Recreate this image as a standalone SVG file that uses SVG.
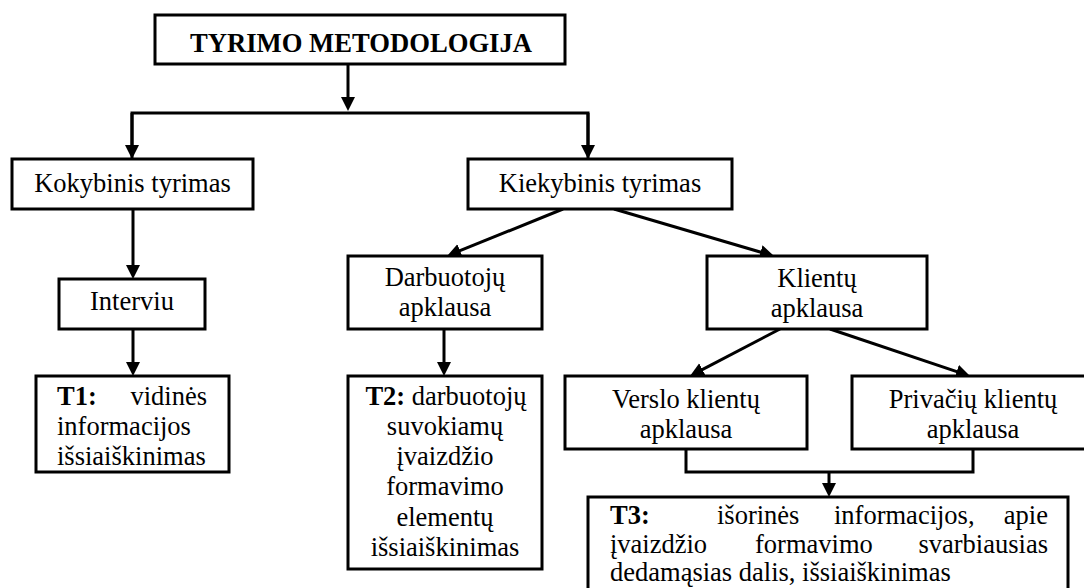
<svg xmlns="http://www.w3.org/2000/svg" width="1084" height="588" viewBox="0 0 1084 588">
<style>
.box{fill:#fff;stroke:#000;stroke-width:3}
.t{font-family:'Liberation Serif','DejaVu Serif',serif;font-size:26.5px;fill:#000}
.c{text-anchor:middle}
.e{text-anchor:end}
.b{font-weight:bold}
.ln{fill:none;stroke:#000;stroke-width:3}
</style>
<defs>
<marker id="ah" markerUnits="userSpaceOnUse" markerWidth="15" markerHeight="15" refX="4" refY="7" orient="auto">
<path d="M0,0 L14,7 L0,14 z" fill="#000"/>
</marker>
</defs>
<rect width="1084" height="588" fill="#fff"/>
<g id="connectors">
<line class="ln" x1="348" y1="64" x2="348" y2="101" marker-end="url(#ah)"/>
<polyline class="ln" points="132,159 132,113 588,113 588,159"/>
<line class="ln" x1="132" y1="113" x2="132" y2="149" marker-end="url(#ah)"/>
<line class="ln" x1="588" y1="113" x2="588" y2="149" marker-end="url(#ah)"/>
<line class="ln" x1="133" y1="209" x2="133" y2="269" marker-end="url(#ah)"/>
<line class="ln" x1="133" y1="329" x2="133" y2="366" marker-end="url(#ah)"/>
<line class="ln" x1="563" y1="209" x2="456.3" y2="252.2" marker-end="url(#ah)"/>
<line class="ln" x1="614" y1="209" x2="764.4" y2="253.2" marker-end="url(#ah)"/>
<line class="ln" x1="444" y1="329" x2="444" y2="366" marker-end="url(#ah)"/>
<line class="ln" x1="780" y1="329" x2="698.9" y2="371.4" marker-end="url(#ah)"/>
<line class="ln" x1="830" y1="329" x2="960.5" y2="372.8" marker-end="url(#ah)"/>
<polyline class="ln" points="686,449 686,472 973,472 973,449"/>
<line class="ln" x1="829" y1="472" x2="829" y2="487" marker-end="url(#ah)"/>
</g>
<g font-family="Liberation Serif, DejaVu Serif, serif">
<g id="title">
<rect class="box" x="155" y="15" width="410" height="49"/>
<text class="t b" x="190" y="52" textLength="342" lengthAdjust="spacingAndGlyphs">TYRIMO METODOLOGIJA</text>
</g>
<g id="kokybinis">
<rect class="box" x="12" y="159" width="241" height="50"/>
<text class="t c" x="132.5" y="192">Kokybinis tyrimas</text>
</g>
<g id="kiekybinis">
<rect class="box" x="468" y="159" width="264" height="50"/>
<text class="t c" x="600" y="192">Kiekybinis tyrimas</text>
</g>
<g id="interviu">
<rect class="box" x="59" y="279" width="146" height="50"/>
<text class="t c" x="132" y="310">Interviu</text>
</g>
<g id="darbuotoju">
<rect class="box" x="348" y="256" width="194" height="73"/>
<text class="t c" x="445" y="286">Darbuotojų</text>
<text class="t c" x="445" y="316">apklausa</text>
</g>
<g id="klientu">
<rect class="box" x="707" y="256" width="220" height="73"/>
<text class="t c" x="817" y="287">Klientų</text>
<text class="t c" x="817" y="317">apklausa</text>
</g>
<g id="t1">
<rect class="box" x="36" y="376" width="193" height="96"/>
<text class="t b" x="57" y="405">T1:</text>
<text class="t e" x="207" y="405">vidinės</text>
<text class="t" x="57" y="435">informacijos</text>
<text class="t" x="57" y="465">išsiaiškinimas</text>
</g>
<g id="t2">
<rect class="box" x="348" y="376" width="194" height="193"/>
<text class="t c" x="446" y="405"><tspan font-weight="bold">T2:</tspan> darbuotojų</text>
<text class="t c" x="445" y="435">suvokiamų</text>
<text class="t c" x="445" y="465">įvaizdžio</text>
<text class="t c" x="445" y="495">formavimo</text>
<text class="t c" x="445" y="526">elementų</text>
<text class="t c" x="445" y="556">išsiaiškinimas</text>
</g>
<g id="verslo">
<rect class="box" x="565" y="376" width="242" height="73"/>
<text class="t c" x="686" y="408">Verslo klientų</text>
<text class="t c" x="686" y="438">apklausa</text>
</g>
<g id="privaciu">
<rect class="box" x="852" y="376" width="242" height="73"/>
<text class="t c" x="973" y="408">Privačių klientų</text>
<text class="t c" x="973" y="438">apklausa</text>
</g>
<g id="t3">
<rect class="box" x="588" y="497" width="480" height="110"/>
<text class="t b" x="610" y="524">T3:</text>
<text class="t" x="717" y="524">išorinės</text>
<text class="t" x="834" y="524">informacijos,</text>
<text class="t e" x="1048" y="524">apie</text>
<text class="t" x="610" y="553">įvaizdžio</text>
<text class="t" x="755" y="553">formavimo</text>
<text class="t e" x="1048" y="553">svarbiausias</text>
<text class="t" x="610" y="581">dedamąsias dalis, išsiaiškinimas</text>
</g>
</g>
</svg>
